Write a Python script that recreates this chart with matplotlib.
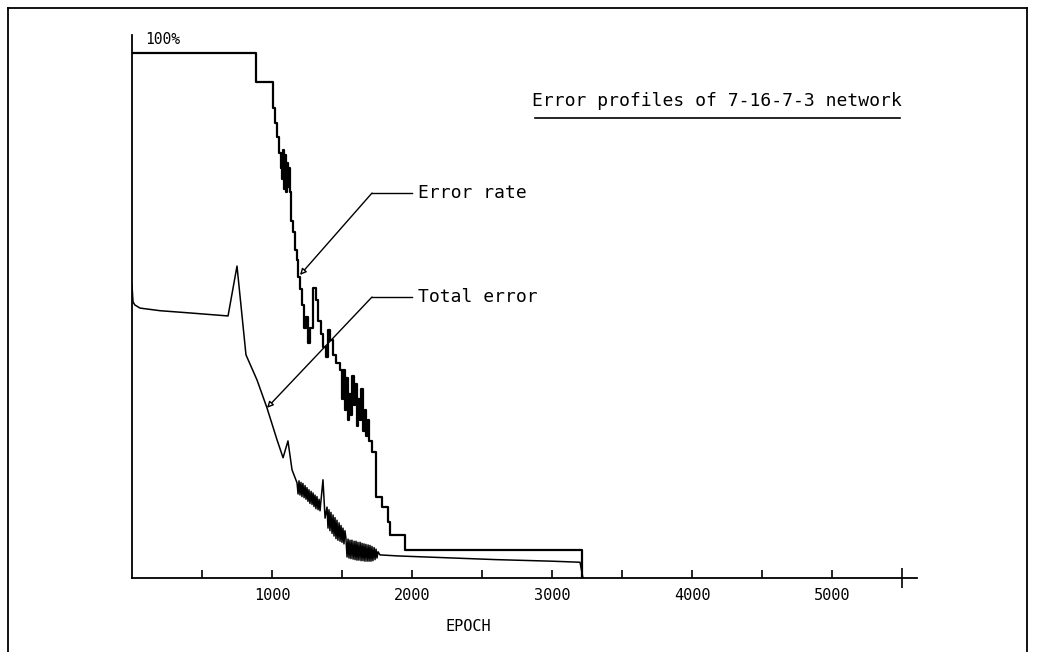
import numpy as np
import matplotlib
matplotlib.use('Agg')
import matplotlib.pyplot as plt
from matplotlib.lines import Line2D

## Data (epoch, percent)

# Error rate, drawn as steps
rate_epoch = [0, 886, 1007, 1021, 1036, 1050, 1064, 1071, 1079, 1086, 1093, 1100,
              1107, 1114, 1121, 1129, 1136, 1150, 1164, 1175, 1186, 1200, 1214,
              1229, 1243, 1257, 1271, 1293, 1314, 1329, 1350, 1364, 1386, 1400,
              1414, 1436, 1457, 1486, 1500, 1507, 1521, 1529, 1543, 1550, 1564,
              1571, 1586, 1593, 1607, 1614, 1629, 1636, 1650, 1664, 1671, 1686,
              1693, 1714, 1743, 1786, 1829, 1843, 1950, 3214]
rate_pct = [100, 94.5, 89.5, 86.7, 84, 81, 78, 76, 81.5, 74, 80.5, 73.5,
            79, 74.5, 78, 73.5, 68, 65.9, 62.5, 60.6, 57.3, 55, 52,
            47.6, 49.7, 44.8, 47.6, 55.2, 53, 49, 46.5, 44, 42.1, 47.2,
            45.3, 42.5, 41, 39.6, 34, 39.6, 32, 38, 30, 35, 31,
            38.5, 33, 37, 29, 34, 30, 36, 28, 32, 27, 30,
            26, 24, 15.4, 13.5, 10.7, 8.2, 5.3, 0]

# Total error
total_epoch = [0, 7, 20, 57, 200, 400, 686, 750, 814, 893, 964, 1036, 1079, 1114,
               1143, 1179,
               1186, 1193, 1200, 1207, 1214, 1221, 1229, 1236, 1243, 1250, 1257,
               1264, 1271, 1279, 1286, 1293, 1300, 1307, 1314, 1321, 1329, 1336,
               1343, 1364, 1379,
               1393, 1400, 1407, 1414, 1421, 1429, 1436, 1443, 1450, 1457, 1464,
               1471, 1479, 1486, 1493, 1500, 1507, 1514, 1521,
               1528, 1536, 1543, 1550, 1557, 1564, 1571, 1579, 1586, 1593, 1600,
               1607, 1614, 1621, 1629, 1636, 1643, 1650, 1657, 1664, 1671, 1679,
               1686, 1693, 1700, 1707, 1714, 1721, 1729, 1736, 1743, 1750, 1757,
               1771, 1900, 2200, 2600, 3000, 3200, 3221]
total_pct = [55.8, 52.6, 52.0, 51.4, 50.9, 50.5, 49.9, 59.4, 42.5, 37.7, 32.4, 26.3, 22.9, 26.1,
             20.6, 18.1,
             16, 18.5, 15.8, 18.2, 15.5, 18, 15.3, 17.6, 15, 17.2, 14.6,
             16.8, 14.2, 16.5, 14, 16.2, 13.6, 15.8, 13.2, 15.5, 13, 15,
             12.8, 18.7, 11.4,
             13.5, 9.5, 13, 9, 12.5, 8.5, 12, 8, 11.5, 7.5, 11,
             7.2, 10.5, 7, 10, 6.8, 9.5, 6.5, 9,
             7.6, 4, 7.4, 3.8, 7.2, 3.7, 7.2, 3.6, 7, 3.5, 7,
             3.4, 6.8, 3.4, 6.8, 3.3, 6.6, 3.3, 6.5, 3.2, 6.4, 3.2,
             6.3, 3.2, 6.2, 3.2, 6, 3.3, 5.8, 3.5, 5.5, 3.8, 5,
             4.4, 4.2, 3.9, 3.5, 3.2, 3.0, 0]

tick_major = [1000, 2000, 3000, 4000, 5000]
tick_minor = [500, 1500, 2500, 3500, 4500, 5500]

mono = 'DejaVu Sans Mono'

fig = plt.figure(figsize=(10.37, 6.52), dpi=100)
ax = fig.add_axes([132/1037, 74/652, 785/1037, 543/652])

ax.plot(rate_epoch, rate_pct, color='black', lw=1.6, drawstyle='steps-post')
ax.plot(total_epoch, total_pct, color='black', lw=1.1)

ax.set_xlim(0, 5607)
ax.set_ylim(0, 103.4)

for s in ['top', 'right']:
    ax.spines[s].set_visible(False)
ax.spines['left'].set_linewidth(1.3)
ax.spines['bottom'].set_linewidth(1.3)

ax.set_yticks([])
ax.set_xticks(tick_major)
ax.set_xticklabels([str(t) for t in tick_major], fontfamily=mono, fontsize=11)
ax.set_xticks(tick_minor, minor=True)
ax.tick_params(axis='x', which='both', direction='in', length=6, width=1.2, pad=7)
# the last tick crosses the axis
big = ax.xaxis.get_minor_ticks()[-1]
big.tick1line.set_marker('|')
big.tick1line.set_markersize(14)

ax.set_xlabel('EPOCH', fontfamily=mono, fontsize=11)
ax.xaxis.set_label_coords((468 - 132) / 785, -0.075)

ax.text(220, 102.6, '100%', fontfamily=mono, fontsize=10.5, ha='center', va='center', clip_on=False)

# title with underline
ax.text(4180, 90.8, 'Error profiles of 7-16-7-3 network', fontfamily=mono, fontsize=13,
        ha='center', va='center')
ax.plot([2879, 5486], [87.6, 87.6], color='black', lw=1.2)

# leader lines for the labels
labels = [('Error rate', 73.3, 1200, 57.7), ('Total error', 53.5, 964, 32.4)]
for txt, ly, tx, ty in labels:
    ax.text(2043, ly, txt, fontfamily=mono, fontsize=13, ha='left', va='center')
    ax.plot([1714, 2000], [ly, ly], color='black', lw=1.0)
    ax.annotate('', xy=(tx, ty), xytext=(1714, ly),
                arrowprops=dict(arrowstyle='-|>', fc='white', ec='black', lw=1.0,
                                mutation_scale=9, shrinkA=0, shrinkB=0))

# frame around the whole picture
fig.add_artist(Line2D([8/1037, 8/1037], [0, 1 - 8/652], color='black', lw=1.3))
fig.add_artist(Line2D([8/1037, 1027/1037], [1 - 8/652, 1 - 8/652], color='black', lw=1.3))
fig.add_artist(Line2D([1027/1037, 1027/1037], [0, 1 - 8/652], color='black', lw=1.3))

fig.savefig('out.png', dpi=100)
